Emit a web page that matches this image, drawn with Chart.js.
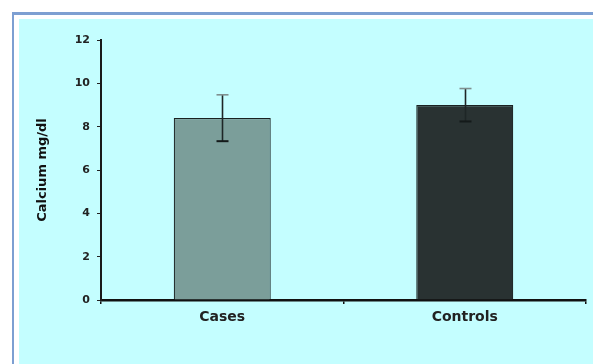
<!DOCTYPE html>
<html>
<head>
<meta charset="utf-8">
<script src="https://cdn.jsdelivr.net/npm/chart.js@4/dist/chart.umd.min.js"></script>
<style>
  html, body { margin: 0; padding: 0; background: #ffffff; }
  canvas { display: block; }
</style>
</head>
<body>
<canvas id="c" width="593" height="364"></canvas>
<script>
// Serum calcium, mean ± SD
const categories = ['Cases', 'Controls'];
const calciumMean = [8.4, 9.0];
const calciumSD = [1.07, 0.76];
const yTicks = [0, 2, 4, 6, 8, 10, 12];

const barColors = ['#7b9e9a', '#293232'];
const fontFamily = '"DejaVu Sans", Verdana, sans-serif';

// Panel background with the framed light-cyan plot area
const panelBackground = {
  id: 'panelBackground',
  beforeDraw(chart) {
    const ctx = chart.ctx;
    const w = chart.width, h = chart.height;
    ctx.save();
    ctx.fillStyle = '#ffffff';
    ctx.fillRect(0, 0, w, h);
    ctx.fillStyle = '#7d9fd2';
    ctx.fillRect(12, 12, w - 12, 3);
    ctx.fillRect(12, 12, 2, h - 12);
    ctx.fillStyle = '#c4feff';
    ctx.fillRect(19, 19, w - 19, h - 19);
    ctx.restore();
  }
};

// Standard deviation whiskers over each bar
const errorBars = {
  id: 'errorBars',
  afterDatasetsDraw(chart) {
    const ctx = chart.ctx;
    const yScale = chart.scales.y;
    const meta = chart.getDatasetMeta(0);
    ctx.save();
    meta.data.forEach((bar, i) => {
      const x = Math.round(bar.x) + 0.5;
      const yHi = yScale.getPixelForValue(calciumMean[i] + calciumSD[i]);
      const yLo = yScale.getPixelForValue(calciumMean[i] - calciumSD[i]);
      const cap = 6;
      ctx.lineWidth = 1.6;
      ctx.strokeStyle = '#1e2626';
      ctx.beginPath();
      ctx.moveTo(x, yHi);
      ctx.lineTo(x, yLo);
      ctx.stroke();
      ctx.strokeStyle = '#7f8f8f';
      ctx.beginPath();
      ctx.moveTo(x - cap, yHi);
      ctx.lineTo(x + cap, yHi);
      ctx.stroke();
      ctx.lineWidth = 2;
      ctx.strokeStyle = '#141a1a';
      ctx.beginPath();
      ctx.moveTo(x - cap, yLo);
      ctx.lineTo(x + cap, yLo);
      ctx.stroke();
    });
    ctx.restore();
  }
};

new Chart(document.getElementById('c'), {
  type: 'bar',
  data: {
    labels: categories,
    datasets: [{
      data: calciumMean,
      backgroundColor: barColors,
      borderColor: '#1a2222',
      borderWidth: 1.2,
      borderSkipped: 'bottom',
      barPercentage: 0.4,
      categoryPercentage: 1.0
    }]
  },
  options: {
    responsive: false,
    animation: false,
    devicePixelRatio: 1,
    layout: { padding: { left: 25, right: 7, top: 40, bottom: 34 } },
    plugins: {
      legend: { display: false },
      tooltip: { enabled: false }
    },
    scales: {
      x: {
        offset: true,
        grid: { display: true, drawOnChartArea: false, offset: true, tickLength: 4, color: '#111', lineWidth: 1.5 },
        border: { display: true, color: '#111', width: 2.5 },
        ticks: { font: { family: fontFamily, size: 14, weight: 'bold' }, color: '#222', padding: 5 },
        afterFit(s) { s.height = 30; }
      },
      y: {
        min: 0,
        max: 12,
        afterBuildTicks(s) { s.ticks = yTicks.map(v => ({ value: v })); },
        grid: { display: true, drawOnChartArea: false, tickLength: 4, color: '#222', lineWidth: 1 },
        border: { display: true, color: '#1a1a1a', width: 2 },
        ticks: { font: { family: fontFamily, size: 11, weight: 'bold' }, color: '#222', padding: 7 },
        title: {
          display: true,
          text: 'Calcium mg/dl',
          font: { family: fontFamily, size: 13, weight: 'bold' },
          color: '#111',
          padding: { top: 10, bottom: 0 }
        },
        afterFit(s) { s.width = 76; }
      }
    }
  },
  plugins: [panelBackground, errorBars]
});
</script>
</body>
</html>
